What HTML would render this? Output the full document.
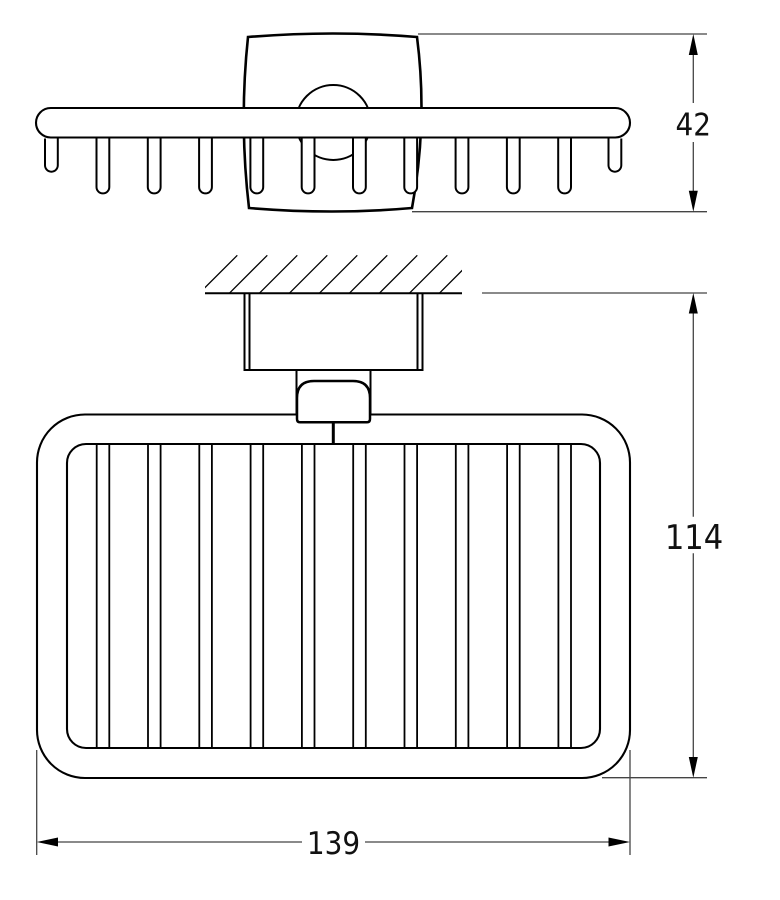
<!DOCTYPE html>
<html>
<head>
<meta charset="utf-8">
<style>
  html, body { margin:0; padding:0; background:#fff; }
  svg { display:block; }
  text { font-family: "DejaVu Sans Condensed", "Liberation Sans", sans-serif; fill:#111; }
</style>
</head>
<body>
<svg width="780" height="900" viewBox="0 0 780 900" xmlns="http://www.w3.org/2000/svg">
  <!-- ===== TOP VIEW ===== -->
  <path d="M248,37 Q333,30 417,37 Q428,122 412,208 Q333,215 249,208 Q239,122 248,37 Z" fill="#fff" stroke="#000" stroke-width="2.6"/>
  <circle cx="333.3" cy="122.5" r="37.5" fill="none" stroke="#000" stroke-width="2"/>
  <rect x="36" y="108" width="594" height="29.5" rx="14.75" ry="14.75" fill="#fff" stroke="#000" stroke-width="2.1"/>
  <g fill="#fff" stroke="#000" stroke-width="2">
    <path d="M45,138.5 V165.3 A6.4,6.4 0 0 0 57.8,165.3 V138.5"/>
    <path d="M96.5,138.5 V187 A6.4,6.4 0 0 0 109.3,187 V138.5"/>
    <path d="M147.8,138.5 V187 A6.4,6.4 0 0 0 160.6,187 V138.5"/>
    <path d="M199.1,138.5 V187 A6.4,6.4 0 0 0 211.9,187 V138.5"/>
    <path d="M250.4,138.5 V187 A6.4,6.4 0 0 0 263.2,187 V138.5"/>
    <path d="M301.7,138.5 V187 A6.4,6.4 0 0 0 314.5,187 V138.5"/>
    <path d="M353,138.5 V187 A6.4,6.4 0 0 0 365.8,187 V138.5"/>
    <path d="M404.3,138.5 V187 A6.4,6.4 0 0 0 417.1,187 V138.5"/>
    <path d="M455.6,138.5 V187 A6.4,6.4 0 0 0 468.4,187 V138.5"/>
    <path d="M506.9,138.5 V187 A6.4,6.4 0 0 0 519.7,187 V138.5"/>
    <path d="M558.2,138.5 V187 A6.4,6.4 0 0 0 571,187 V138.5"/>
    <path d="M608.5,138.5 V165.3 A6.4,6.4 0 0 0 621.3,165.3 V138.5"/>
  </g>

  <!-- dimension 42 -->
  <g stroke="#444" stroke-width="1.3" fill="none">
    <line x1="418" y1="34" x2="707" y2="34"/>
    <line x1="412" y1="211.7" x2="707" y2="211.7"/>
    <line x1="693.3" y1="50" x2="693.3" y2="103"/>
    <line x1="693.3" y1="142" x2="693.3" y2="196"/>
  </g>
  <polygon points="693.3,34 688.8,55 697.8,55" fill="#000"/>
  <polygon points="693.3,211.7 688.8,190.7 697.8,190.7" fill="#000"/>
  <text x="693.3" y="135.7" font-size="31" text-anchor="middle">42</text>

  <!-- ===== FRONT VIEW ===== -->
  <defs>
    <clipPath id="hc"><rect x="205" y="254" width="257" height="40"/></clipPath>
  </defs>
  <g clip-path="url(#hc)" stroke="#000" stroke-width="1.3">
    <line x1="199.3" y1="293.3" x2="237.3" y2="255.3"/>
    <line x1="229.3" y1="293.3" x2="267.3" y2="255.3"/>
    <line x1="259.3" y1="293.3" x2="297.3" y2="255.3"/>
    <line x1="289.3" y1="293.3" x2="327.3" y2="255.3"/>
    <line x1="319.3" y1="293.3" x2="357.3" y2="255.3"/>
    <line x1="349.3" y1="293.3" x2="387.3" y2="255.3"/>
    <line x1="379.3" y1="293.3" x2="417.3" y2="255.3"/>
    <line x1="409.3" y1="293.3" x2="447.3" y2="255.3"/>
    <line x1="439.3" y1="293.3" x2="477.3" y2="255.3"/>
  </g>
  <line x1="205" y1="293.3" x2="462" y2="293.3" stroke="#000" stroke-width="2"/>

  <g stroke="#000" stroke-width="2" fill="none">
    <line x1="244.5" y1="293.3" x2="244.5" y2="370"/>
    <line x1="249.5" y1="293.3" x2="249.5" y2="370"/>
    <line x1="417.5" y1="293.3" x2="417.5" y2="370"/>
    <line x1="422.5" y1="293.3" x2="422.5" y2="370"/>
    <line x1="243.5" y1="370" x2="423.5" y2="370"/>
    <line x1="296.5" y1="370" x2="296.5" y2="414.5"/>
    <line x1="370.5" y1="370" x2="370.5" y2="414.5"/>
  </g>

  <path d="M297,414.5 H85 A48,48 0 0 0 37,462.5 V730 A48,48 0 0 0 85,778 H582 A48,48 0 0 0 630,730 V462.5 A48,48 0 0 0 582,414.5 H370" fill="none" stroke="#000" stroke-width="2.1"/>
  <rect x="67" y="444" width="533" height="304" rx="19" ry="19" fill="none" stroke="#000" stroke-width="2.1"/>
  <g stroke="#000" stroke-width="1.8">
    <line x1="96.7" y1="444" x2="96.7" y2="748"/><line x1="109.3" y1="444" x2="109.3" y2="748"/>
    <line x1="148" y1="444" x2="148" y2="748"/><line x1="160.6" y1="444" x2="160.6" y2="748"/>
    <line x1="199.3" y1="444" x2="199.3" y2="748"/><line x1="211.9" y1="444" x2="211.9" y2="748"/>
    <line x1="250.6" y1="444" x2="250.6" y2="748"/><line x1="263.2" y1="444" x2="263.2" y2="748"/>
    <line x1="301.9" y1="444" x2="301.9" y2="748"/><line x1="314.5" y1="444" x2="314.5" y2="748"/>
    <line x1="353.2" y1="444" x2="353.2" y2="748"/><line x1="365.8" y1="444" x2="365.8" y2="748"/>
    <line x1="404.5" y1="444" x2="404.5" y2="748"/><line x1="417.1" y1="444" x2="417.1" y2="748"/>
    <line x1="455.8" y1="444" x2="455.8" y2="748"/><line x1="468.4" y1="444" x2="468.4" y2="748"/>
    <line x1="507.1" y1="444" x2="507.1" y2="748"/><line x1="519.7" y1="444" x2="519.7" y2="748"/>
    <line x1="558.4" y1="444" x2="558.4" y2="748"/><line x1="571" y1="444" x2="571" y2="748"/>
  </g>

  <line x1="333.3" y1="421" x2="333.3" y2="444" stroke="#000" stroke-width="3"/>
  <path d="M297,414 V398 Q297,381 314,381 H353 Q370,381 370,398 V419 Q370,422.3 367,422.3 H300 Q297,422.3 297,419 Z" fill="#fff" stroke="#000" stroke-width="2.5"/>

  <!-- dimension 114 -->
  <g stroke="#444" stroke-width="1.3" fill="none">
    <line x1="482" y1="293" x2="707" y2="293"/>
    <line x1="602" y1="777.7" x2="707" y2="777.7"/>
    <line x1="693.3" y1="310" x2="693.3" y2="516.7"/>
    <line x1="693.3" y1="553.3" x2="693.3" y2="760"/>
  </g>
  <polygon points="693.3,293 688.8,313.5 697.8,313.5" fill="#000"/>
  <polygon points="693.3,777.7 688.8,757 697.8,757" fill="#000"/>
  <text x="694" y="549" font-size="34" text-anchor="middle">114</text>

  <!-- dimension 139 -->
  <g stroke="#444" stroke-width="1.3" fill="none">
    <line x1="36.7" y1="750" x2="36.7" y2="855"/>
    <line x1="630" y1="750" x2="630" y2="855"/>
    <line x1="52" y1="842" x2="302" y2="842"/>
    <line x1="365" y1="842" x2="614" y2="842"/>
  </g>
  <polygon points="36.7,842 58,837.5 58,846.5" fill="#000"/>
  <polygon points="630,842 608.5,837.5 608.5,846.5" fill="#000"/>
  <text x="333.5" y="854" font-size="31" text-anchor="middle">139</text>
</svg>
</body>
</html>
